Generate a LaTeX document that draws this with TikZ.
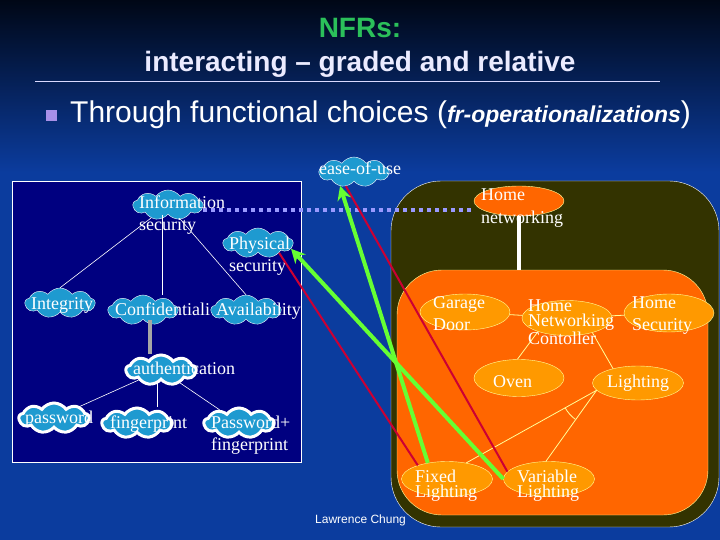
\documentclass[tikz,border=0pt]{standalone}
\usepackage{fontspec}
\setmainfont{Liberation Serif}
\newfontfamily\arialfont{Liberation Sans}
\usetikzlibrary{shapes.symbols,shapes.geometric,arrows.meta}

\definecolor{slideblue}{HTML}{0B3C9E}
\definecolor{slidetop}{HTML}{000716}
\definecolor{boxnavy}{HTML}{000080}
\definecolor{darkolive}{HTML}{333300}
\definecolor{sysorange}{HTML}{FF6600}
\definecolor{partorange}{HTML}{FF9900}
\definecolor{paleyellow}{HTML}{FFFF99}
\definecolor{softgoal}{HTML}{1E9AD0}
\definecolor{helpgreen}{HTML}{66FF33}
\definecolor{hurtred}{HTML}{CC0033}
\definecolor{tradeoff}{HTML}{9999FF}
\definecolor{titlegreen}{HTML}{2BC05A}
\definecolor{bulletlav}{HTML}{A890E8}

\begin{document}
\begin{tikzpicture}[x=1pt, y=-1pt,
    goal/.style={cloud, cloud puffs=9, cloud puff arc=110, cloud ignores aspect,
        draw=white, fill=softgoal, inner sep=0pt, minimum width=70pt, minimum height=30pt},
    boldgoal/.style={goal, line width=3pt},
    part/.style={ellipse, draw=paleyellow, fill=partorange, inner sep=0pt,
        minimum width=90pt, minimum height=35pt},
    lbl/.style={text=white, inner sep=0pt, anchor=base west, align=left,
        font=\fontsize{18}{22}\selectfont},
    tree/.style={white, line width=0.6pt},
    link/.style={paleyellow, line width=0.8pt},
    helps/.style={helpgreen, line width=4pt, -{Stealth[length=14pt,width=14pt]}},
    hurts/.style={hurtred, line width=2pt}]
    \useasboundingbox (0,0) rectangle (720,540);

    % slide background
    \fill[slideblue] (0,170) rectangle (720,540);
    \shade[top color=slidetop, bottom color=slideblue] (0,0) rectangle (720,172);

    \node[anchor=base, text=titlegreen, font=\arialfont\bfseries\fontsize{28}{34}\selectfont] (title) at (360,38) {NFRs:};
    \node[anchor=base, text=white!92!blue, font=\arialfont\bfseries\fontsize{28}{34}\selectfont] (subtitle) at (360,72) {interacting – graded and relative};
    \draw[white!85!blue, line width=0.8pt] (35,81) -- (660,81);
    \fill[bulletlav] (46,110) rectangle (57,121);
    \node[anchor=base west, text=white, inner sep=0pt, font=\arialfont\fontsize{30}{36}\selectfont] (bullet) at (70,123)
        {Through functional choices ({\bfseries\itshape\fontsize{23}{26}\selectfont fr-operationalizations})};

    % security goals
    \draw[white, fill=boxnavy] (12,181) rectangle (301,462);

    \node[goal] (info) at (168,205) {};
    \node[goal] (phys) at (258,243) {};
    \node[goal] (integ) at (60,303) {};
    \node[goal] (conf) at (143,310) {};
    \node[goal] (avail) at (246,310) {};
    \node[goal] (ease) at (354,172) {};
    \node[boldgoal] (auth) at (161,370) {};
    \node[boldgoal] (pwd) at (54,418) {};
    \node[boldgoal] (fing) at (137,423) {};
    \node[boldgoal] (pwdfp) at (239,423) {};

    \draw[tree] (info) -- (integ.north);
    \draw[tree] ([xshift=-6pt]info.south) -- ([xshift=-6pt]info.south |- conf.north);
    \draw[tree] (info) -- (avail.north);
    \draw[tree] (auth) -- (pwd);
    \draw[tree] ([xshift=-4pt]auth.south) -- ([xshift=-4pt]auth.south |- fing.north);
    \draw[tree] (auth) -- (pwdfp);
    \draw[gray!70, line width=4pt] ([xshift=7pt]conf.south) -- ([xshift=7pt]conf.south |- auth.north);

    % home networking system
    \node[draw=white, fill=darkolive, rounded corners=50pt, inner sep=0pt,
        minimum width=328pt, minimum height=346pt] (home) at (555,354) {};
    \node[draw=paleyellow, fill=sysorange, rounded corners=45pt, inner sep=0pt,
        minimum width=311pt, minimum height=245pt] (sys) at (552.5,392.5) {};

    \node[part, fill=sysorange, minimum height=30pt] (homenet) at (519,201) {};
    \node[part, minimum height=36pt] (garage) at (465,312) {};
    \node[part] (ctrl) at (567,318) {};
    \node[part, minimum height=38pt] (sec) at (669,313) {};
    \node[part, minimum height=37pt] (oven) at (519,378) {};
    \node[part, minimum width=91pt, minimum height=34pt] (light) at (638,383) {};
    \node[part, minimum width=91pt] (fixed) at (447,479) {};
    \node[part, minimum width=91pt] (var) at (549,479) {};

    \draw[tradeoff, line width=4pt, dash pattern=on 4pt off 4pt] ([yshift=-5pt]info.east) -- ([yshift=-5pt]info.east -| homenet.west);
    \draw[white, line width=4pt] (homenet.south) -- (homenet.south |- sys.north);

    \draw[link] (garage) -- (ctrl);
    \draw[link] (ctrl) -- (sec);
    \draw[link] (ctrl.205) -- (oven.95);
    \draw[link] (ctrl.330) -- (light.150);
    \draw[link] (light.190) -- (fixed.40);
    \draw[link] (light.190) -- (var.100);
    \draw[link] (light.190) ++(151:36) arc[start angle=151, end angle=126, radius=36];

    % labels (base = last line)
    \node[lbl] (info-t) at (139,230) {Information\\security};
    \node[lbl] (phys-t) at (229,271) {Physical\\security};
    \node[lbl] (integ-t) at (31,309) {Integrity};
    \node[lbl] (conf-t) at (115,315) {Confidentiali};
    \node[lbl] (avail-t) at (216,315) {Availability};
    \node[lbl] (ease-t) at (319,175) {ease-of-use};
    \node[lbl] (auth-t) at (133,374) {authentication};
    \node[lbl] (pwd-t) at (25,423) {password};
    \node[lbl] (fing-t) at (110,428) {fingerprint};
    \node[lbl] (pwdfp-t) at (211,450) {Password+\\fingerprint};
    \node[lbl, font=\fontsize{18}{23}\selectfont] (homenet-t) at (481,223) {Home\\networking};
    \node[lbl] (garage-t) at (433,330) {Garage\\Door};
    \node[lbl, font=\fontsize{18}{15}\selectfont] (ctrl-t) at (528,344) {Home\\Networking\\Contoller};
    \node[lbl] (sec-t) at (632,330) {Home\\Security};
    \node[lbl] (oven-t) at (493,387) {Oven};
    \node[lbl] (light-t) at (607,387) {Lighting};
    \node[lbl, font=\fontsize{18}{15}\selectfont] (fixed-t) at (415,497) {Fixed\\Lighting};
    \node[lbl, font=\fontsize{18}{15}\selectfont] (var-t) at (517,497) {Variable\\Lighting};

    % contributions
    \draw[hurts] (ease.240) -- (var.170);
    \draw[hurts] (phys.-25) -- (fixed.155);
    \draw[helps] (fixed.140) -- (ease.225);
    \draw[helps] (var.180) -- (phys.-10);

    \node[anchor=base west, text=white, inner sep=0pt, font=\arialfont\fontsize{12}{14}\selectfont] (author) at (315,523) {Lawrence Chung};
\end{tikzpicture}
\end{document}
